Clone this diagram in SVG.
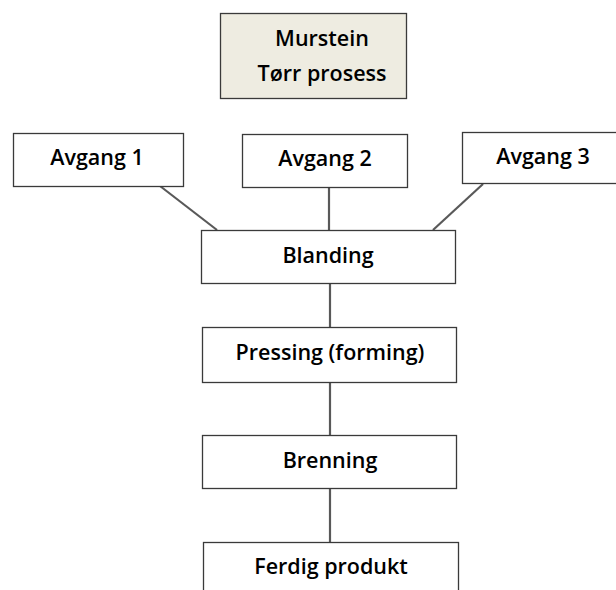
<svg xmlns="http://www.w3.org/2000/svg" width="616" height="590" viewBox="0 0 616 590">
<style>
.box{fill:#ffffff;stroke:#3a3a3a;stroke-width:1.3}
.title{fill:#eeece1;stroke:#3a3a3a;stroke-width:1.3}
.lbl{font-family:"Open Sans","Noto Sans","Liberation Sans",sans-serif;font-weight:600;font-size:21.5px;fill:#000;text-anchor:middle}
.con{stroke:#595959;stroke-width:2.2;fill:none}
</style>
<rect width="616" height="590" fill="#ffffff"/>
<g id="connectors">
<line class="con" x1="160" y1="186" x2="217" y2="230"/>
<line class="con" x1="329" y1="187" x2="329" y2="230"/>
<line class="con" x1="483" y1="184" x2="433" y2="230"/>
<line class="con" x1="330" y1="283" x2="330" y2="327"/>
<line class="con" x1="330" y1="382" x2="330" y2="435"/>
<line class="con" x1="330" y1="488" x2="330" y2="542"/>
</g>
<g id="title">
<rect class="title" x="220.5" y="13.5" width="186" height="85"/>
<text class="lbl" x="322" y="46">Murstein</text>
<text class="lbl" x="322" y="81">Tørr prosess</text>
</g>
<g id="avgang1">
<rect class="box" x="13.5" y="133.5" width="170" height="53"/>
<text class="lbl" x="97" y="165">Avgang 1</text>
</g>
<g id="avgang2">
<rect class="box" x="242.5" y="134.5" width="165" height="53"/>
<text class="lbl" x="325" y="166">Avgang 2</text>
</g>
<g id="avgang3">
<rect class="box" x="462.5" y="132.5" width="160" height="51"/>
<text class="lbl" x="543" y="164">Avgang 3</text>
</g>
<g id="blanding">
<rect class="box" x="201.5" y="230.5" width="254" height="53"/>
<text class="lbl" x="328" y="263">Blanding</text>
</g>
<g id="pressing">
<rect class="box" x="202.5" y="327.5" width="254" height="55"/>
<text class="lbl" x="330" y="360">Pressing (forming)</text>
</g>
<g id="brenning">
<rect class="box" x="202.5" y="435.5" width="254" height="53"/>
<text class="lbl" x="330" y="468">Brenning</text>
</g>
<g id="ferdig">
<rect class="box" x="203.5" y="542.5" width="255" height="60"/>
<text class="lbl" x="331" y="574">Ferdig produkt</text>
</g>
</svg>
